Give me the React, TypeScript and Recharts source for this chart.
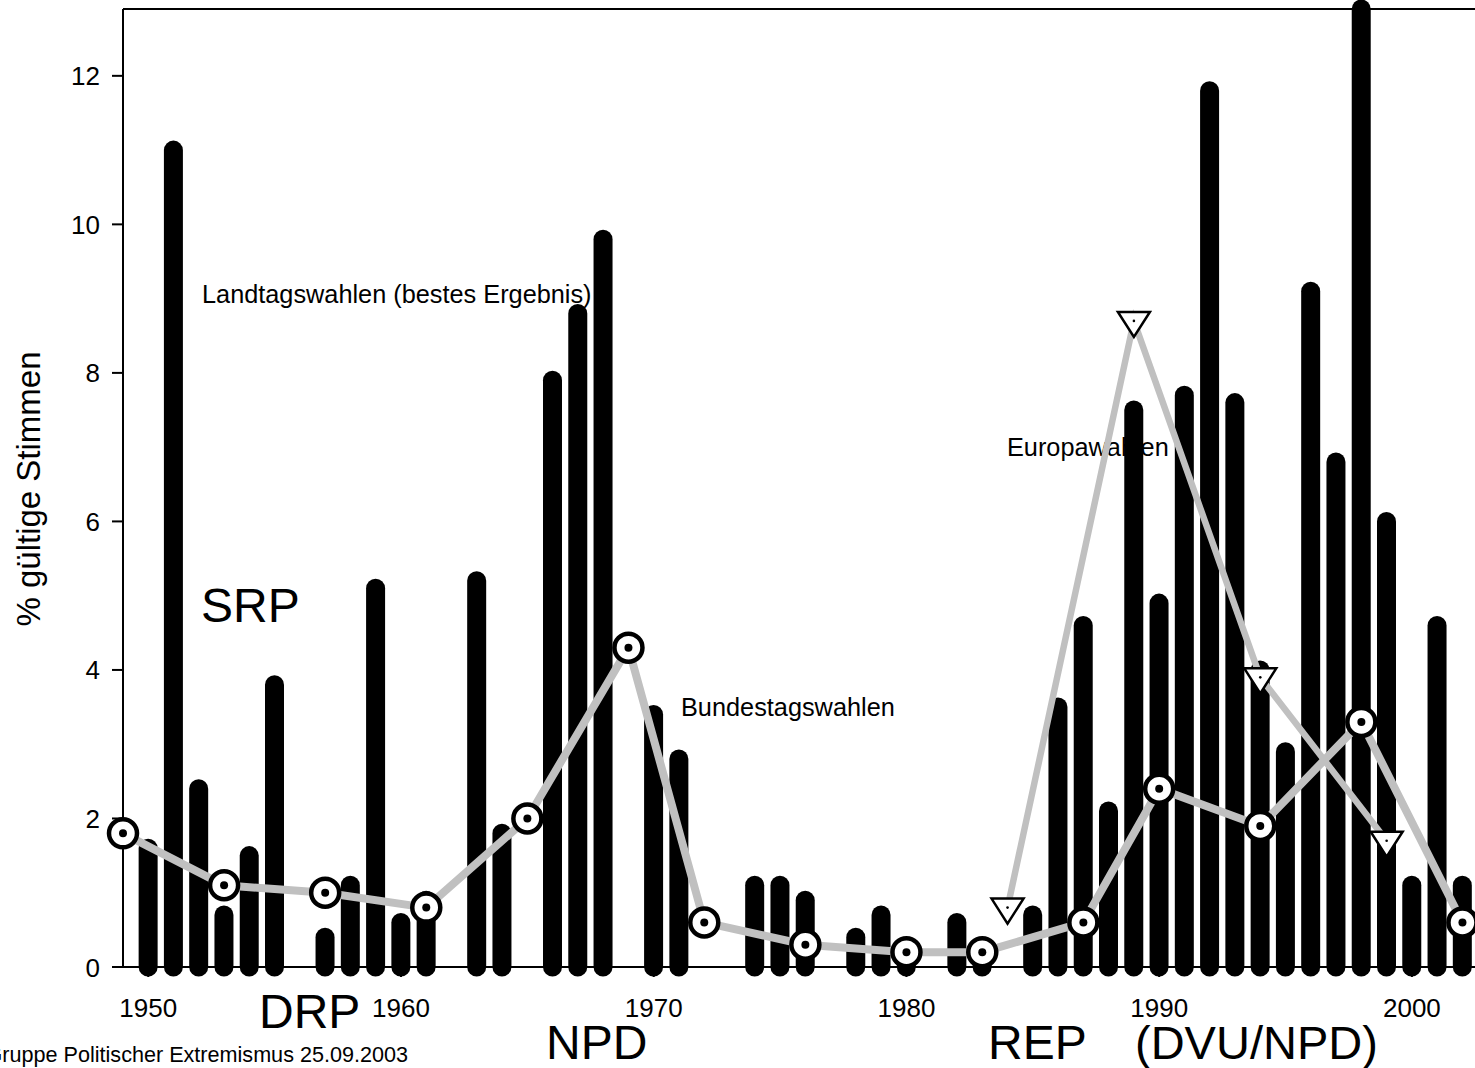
import React from 'react';
import { ComposedChart, Bar, Line, XAxis, YAxis, ReferenceLine } from 'recharts';

// Landtagswahlen (bestes Ergebnis)
const landtagYears = [1950, 1951, 1952, 1953, 1954, 1955, 1957, 1958, 1959, 1960, 1961, 1963, 1964, 1966, 1967, 1968, 1970, 1971, 1974, 1975, 1976, 1978, 1979, 1980, 1982, 1983, 1985, 1986, 1987, 1988, 1989, 1990, 1991, 1992, 1993, 1994, 1995, 1996, 1997, 1998, 1999, 2000, 2001, 2002];
const landtagValues = [1.6, 11.0, 2.4, 0.7, 1.5, 3.8, 0.4, 1.1, 5.1, 0.6, 0.9, 5.2, 1.8, 7.9, 8.8, 9.8, 3.4, 2.8, 1.1, 1.1, 0.9, 0.4, 0.7, 0.2, 0.6, 0.2, 0.7, 3.5, 4.6, 2.1, 7.5, 4.9, 7.7, 11.8, 7.6, 4.0, 2.9, 9.1, 6.8, 12.9, 6.0, 1.1, 4.6, 1.1];

// Bundestagswahlen
const bundestagYears = [1949, 1953, 1957, 1961, 1965, 1969, 1972, 1976, 1980, 1983, 1987, 1990, 1994, 1998, 2002];
const bundestagValues = [1.8, 1.1, 1.0, 0.8, 2.0, 4.3, 0.6, 0.3, 0.2, 0.2, 0.6, 2.4, 1.9, 3.3, 0.6];

// Europawahlen
const europaYears = [1984, 1989, 1994, 1999];
const europaValues = [0.8, 8.7, 3.9, 1.7];

const xTicks = [1950, 1960, 1970, 1980, 1990, 2000];
const yTicks = [0, 2, 4, 6, 8, 10, 12];
const xDomain = [1949, 2004];
const yDomain = [0, 12.9];

const landtagData = landtagYears.map((year, i) => ({ year, value: landtagValues[i] }));
const bundestagData = bundestagYears.map((year, i) => ({ year, value: bundestagValues[i] }));
const europaData = europaYears.map((year, i) => ({ year, value: europaValues[i] }));

const FONT = '"Liberation Sans", Arial, Helvetica, sans-serif';

const RoundBar = (props: any) => {
  const { x, y, width, height } = props;
  if (x == null || y == null || !width) return null;
  const r = width / 2;
  return <rect x={x} y={y - r} width={width} height={Math.max(0, height) + 2 * r} rx={r} ry={r} fill="#000" />;
};

const CircleDot = (props: any) => {
  const { cx, cy, index } = props;
  if (cx == null || cy == null) return null;
  return (
    <g key={`cd-${index}`}>
      <circle cx={cx} cy={cy} r={14} fill="#fff" stroke="#000" strokeWidth={4.5} />
      <circle cx={cx} cy={cy} r={4} fill="#000" />
    </g>
  );
};

const TriDot = (props: any) => {
  const { cx, cy, index } = props;
  if (cx == null || cy == null) return null;
  const pts = `${cx - 16},${cy - 9} ${cx + 16},${cy - 9} ${cx},${cy + 16}`;
  return (
    <g key={`td-${index}`}>
      <polygon points={pts} fill="#fff" stroke="#000" strokeWidth={2.5} />
      <circle cx={cx} cy={cy} r={1.3} fill="#000" />
    </g>
  );
};

const XTick = (props: any) => {
  const { x, y, payload } = props;
  return (
    <text x={x} y={y} dy={19} textAnchor="middle" fontFamily={FONT} fontSize={26} fill="#000">
      {payload.value}
    </text>
  );
};

const YTick = (props: any) => {
  const { x, y, payload } = props;
  return (
    <text x={x} y={y} dy={9.5} textAnchor="end" fontFamily={FONT} fontSize={26} fill="#000">
      {payload.value}
    </text>
  );
};

export default function App() {
  return (
    <div style={{ position: 'absolute', left: 0, top: 0, width: 1475, height: 1068, overflow: 'hidden', background: '#fff' }}>
      <svg width={1475} height={1068} style={{ position: 'absolute', left: 0, top: 0 }}>
        <text x={40} y={489} transform="rotate(-90 40 489)" textAnchor="middle" fontFamily={FONT} fontSize={33} fill="#000">% gültige Stimmen</text>
        <text x={202} y={303} fontFamily={FONT} fontSize={25.3} fill="#000">Landtagswahlen (bestes Ergebnis)</text>
        <text x={681} y={716} fontFamily={FONT} fontSize={25.3} fill="#000">Bundestagswahlen</text>
        <text x={1007} y={456} fontFamily={FONT} fontSize={25.3} fill="#000">Europawahlen</text>
        <text x={201} y={622} fontFamily={FONT} fontSize={48} fill="#000">SRP</text>
        <text x={259} y={1028} fontFamily={FONT} fontSize={48} fill="#000">DRP</text>
        <text x={546} y={1059} fontFamily={FONT} fontSize={48} fill="#000">NPD</text>
        <text x={988} y={1059} fontFamily={FONT} fontSize={48} fill="#000">REP</text>
        <text x={1135} y={1059} fontFamily={FONT} fontSize={47} fill="#000">(DVU/NPD)</text>
        <text x={408} y={1062} textAnchor="end" fontFamily={FONT} fontSize={21.6} fill="#000">Gruppe Politischer Extremismus 25.09.2003</text>
      </svg>
      <div style={{ position: 'absolute', left: 0, top: 0 }}>
        <ComposedChart width={1520} height={1068} data={landtagData} margin={{ top: 9, right: 7, bottom: 0, left: 0 }}>
          <XAxis
            dataKey="year"
            type="number"
            domain={xDomain}
            ticks={xTicks}
            interval={0}
            allowDecimals={false}
            height={101}
            tickSize={10}
            tickMargin={21}
            axisLine={{ stroke: '#000', strokeWidth: 2 }}
            tickLine={{ stroke: '#000', strokeWidth: 2 }}
            tick={<XTick />}
          />
          <YAxis
            type="number"
            domain={yDomain}
            ticks={yTicks}
            interval={0}
            width={123}
            tickSize={11}
            tickMargin={12}
            axisLine={{ stroke: '#000', strokeWidth: 2 }}
            tickLine={{ stroke: '#000', strokeWidth: 2 }}
            tick={<YTick />}
          />
          <ReferenceLine y={12.9} stroke="#000" strokeWidth={2} />
          <Bar dataKey="value" barSize={19} fill="#000" shape={<RoundBar />} isAnimationActive={false} />
          <Line data={europaData} dataKey="value" stroke="#c0c0c0" strokeWidth={6.5} dot={<TriDot />} activeDot={false} isAnimationActive={false} />
          <Line data={bundestagData} dataKey="value" stroke="#c0c0c0" strokeWidth={8} dot={<CircleDot />} activeDot={false} isAnimationActive={false} />
        </ComposedChart>
      </div>
    </div>
  );
}
